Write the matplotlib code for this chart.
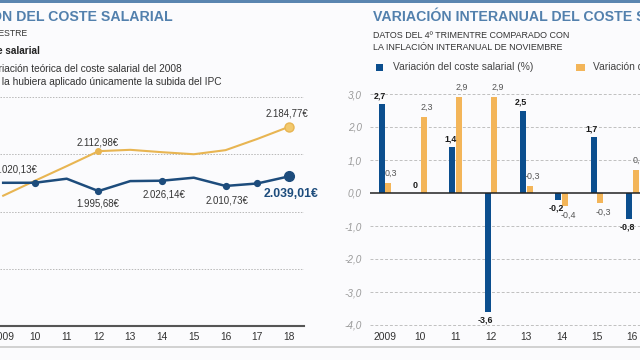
import matplotlib
matplotlib.use("Agg")
import matplotlib.pyplot as plt
from matplotlib.patches import Rectangle
from matplotlib.lines import Line2D

plt.rcParams['font.family'] = ['Liberation Sans', 'DejaVu Sans']

W, H = 640, 360

# Evolución del coste salarial (euros, 4º trimestre)
years = [2009, 2010, 2011, 2012, 2013, 2014, 2015, 2016, 2017, 2018]
coste_salarial = [2020.0, 2020.13, 2032.0, 1995.68, 2025.0, 2026.14, 2035.0, 2010.73, 2018.0, 2039.01]
coste_ipc = [1982.0, 2026.0, 2069.0, 2112.98, 2117.0, 2110.0, 2104.0, 2116.0, 2149.0, 2184.77]
years_marcados = [2010, 2012, 2014, 2016, 2017]
years_etiqueta = [2010, 2012, 2014, 2016]
year_labels = ["2009", "10", "11", "12", "13", "14", "15", "16", "17", "18"]

# Variación interanual (%)
bar_years = [2009, 2010, 2011, 2012, 2013, 2014, 2015, 2016]
var_coste = [2.7, 0.0, 1.4, -3.6, 2.5, -0.2, 1.7, -0.8]
var_ipc = [0.3, 2.3, 2.9, 2.9, 0.2, -0.4, -0.3, 0.7]
var_ipc_labels = ["0,3", "2,3", "2,9", "2,9", "-0,3", "-0,4", "-0,3", "0,7"]
bar_year_labels = ["2009", "10", "11", "12", "13", "14", "15", "16"]
bar_yticks = [-4, -3, -2, -1, 0, 1, 2, 3]

BLUE_LINE = '#1d4c7c'
GOLD_LINE = '#e8b552'
BLUE_BAR = '#0b4e8e'
GOLD_BAR = '#f3b559'
TITLE = '#5280ad'
BG = '#fbfbfd'


def fx(x):
    return x / W


def fy(y):
    return 1 - y / H


def euros(v):
    s = f"{v:,.2f}".replace(",", "X").replace(".", ",").replace("X", ".")
    return s + "€"


def pt(px):
    return px * 72 / 100


fig = plt.figure(figsize=(6.4, 3.6), dpi=100, facecolor=BG)

# bandas decorativas
fig.add_artist(Rectangle((0, fy(3)), 1, 3 / H, transform=fig.transFigure,
                         color='#5a85b0', lw=0))
fig.add_artist(Line2D([0, 1], [fy(347), fy(347)], transform=fig.transFigure,
                      color='#cacaca', lw=1.2))

# ---------------- panel izquierdo ----------------
fig.text(fx(173), fy(17), "EVOLUCIÓN DEL COSTE SALARIAL", ha='right', va='center',
         fontsize=10.2, fontweight='bold', color=TITLE)
fig.text(fx(27), fy(33), "4º TRIMESTRE", ha='right', va='center', fontsize=6.2, color='#333')
fig.text(fx(40), fy(51), "Coste salarial", ha='right', va='center', fontsize=7.2,
         fontweight='bold', color='#222')
fig.text(fx(182), fy(69), "Variación teórica del coste salarial del 2008", ha='right',
         va='center', fontsize=7.3, color='#333')
fig.text(fx(222), fy(82), "si se la hubiera aplicado únicamente la subida del IPC", ha='right',
         va='center', fontsize=7.3, color='#333')

ax1 = fig.add_axes([0, fy(326), fx(304), (326 - 90) / H])
ax1.set_facecolor('none')
y0, slope = 2061.55, 0.34   # escala: pixeles por euro
ylo = y0 - (326 - 168.67) / slope
yhi = y0 + (168.67 - 90) / slope
ax1.set_ylim(ylo, yhi)
ax1.set_xlim(2008.9, 2018.47)
step = ((168.67 - 97) / slope + (326 - 168.67) / slope) / 4
for k in range(1, 5):
    ax1.axhline(ylo + k * step, color='#b8b8b8', lw=0.7, ls=(0, (1.5, 1.5)), zorder=1)

ax1.plot(years, coste_ipc, color=GOLD_LINE, lw=1.5, zorder=3, solid_joinstyle='round')
ax1.plot(years, coste_salarial, color=BLUE_LINE, lw=1.8, zorder=4, solid_joinstyle='round')

for yr in years_marcados:
    i = years.index(yr)
    ax1.plot(yr, coste_salarial[i], 'o', color=BLUE_LINE, ms=4.2, zorder=5)
ax1.plot(years[-1], coste_salarial[-1], 'o', color=BLUE_LINE, ms=7, zorder=5)
i12 = years.index(2012)
ax1.plot(2012, coste_ipc[i12], 'o', color=GOLD_LINE, ms=4, zorder=5)
ax1.plot(years[-1], coste_ipc[-1], 'o', mfc='#f2c96e', mec=GOLD_LINE, mew=1, ms=6.5, zorder=5)

offs = {2010: (-19, 13), 2012: (-1, -12), 2014: (2, -14), 2016: (1, -15)}
for yr in years_etiqueta:
    i = years.index(yr)
    dx, dy = offs[yr]
    ax1.annotate(euros(coste_salarial[i]), (yr, coste_salarial[i]), xytext=(pt(dx), pt(dy)),
                 textcoords='offset points', ha='center', va='center', fontsize=6.9,
                 color='#333', annotation_clip=False)
ax1.annotate(euros(coste_salarial[-1]), (years[-1], coste_salarial[-1]), xytext=(pt(2), pt(-18)),
             textcoords='offset points', ha='center', va='center', fontsize=8.8,
             fontweight='bold', color=BLUE_LINE, annotation_clip=False)
ax1.annotate(euros(coste_ipc[i12]), (2012, coste_ipc[i12]), xytext=(pt(-1), pt(9)),
             textcoords='offset points', ha='center', va='center', fontsize=6.9,
             color='#333', annotation_clip=False)
ax1.annotate(euros(coste_ipc[-1]), (years[-1], coste_ipc[-1]), xytext=(pt(-2), pt(13)),
             textcoords='offset points', ha='center', va='center', fontsize=6.9,
             color='#333', annotation_clip=False)

for s in ['left', 'right', 'top']:
    ax1.spines[s].set_visible(False)
ax1.spines['bottom'].set_color('#555')
ax1.spines['bottom'].set_linewidth(1.5)
ax1.set_yticks([])
ax1.set_xticks(years)
ax1.set_xticklabels(year_labels)
ax1.tick_params(axis='x', length=0, pad=4, labelsize=7.4, labelcolor='#333')

# ---------------- panel derecho ----------------
fig.text(fx(373), fy(17), "VARIACIÓN INTERANUAL DEL COSTE SALARIAL", ha='left', va='center',
         fontsize=10.2, fontweight='bold', color=TITLE)
fig.text(fx(373), fy(36), "DATOS DEL 4º TRIMENTRE COMPARADO CON", ha='left', va='center',
         fontsize=6.4, color='#333')
fig.text(fx(373), fy(48), "LA INFLACIÓN INTERANUAL DE NOVIEMBRE", ha='left', va='center',
         fontsize=6.4, color='#333')
fig.add_artist(Rectangle((fx(376), fy(71)), 7 / W, 7 / H, transform=fig.transFigure,
                         color=BLUE_BAR, lw=0))
fig.text(fx(393), fy(67), "Variación del coste salarial (%)", ha='left', va='center',
         fontsize=7.4, color='#444')
fig.add_artist(Rectangle((fx(576), fy(71)), 9 / W, 7 / H, transform=fig.transFigure,
                         color=GOLD_BAR, lw=0))
fig.text(fx(593), fy(67), "Variación del IPC (%)", ha='left', va='center',
         fontsize=7.4, color='#444')

ppu = 33.0  # pixeles por unidad
ylim2 = (-4.05, 3.3)
ax2 = fig.add_axes([fx(370), fy(325 + 0.05 * ppu), fx(270), (ylim2[1] - ylim2[0]) * ppu / H])
ax2.set_facecolor('none')
ax2.set_xlim(2008.575, 2016.22)
ax2.set_ylim(*ylim2)
for v in bar_yticks:
    if v == 0:
        ax2.axhline(0, color='#222', lw=1.1, zorder=4)
    else:
        ax2.axhline(v, color='#c0c0c0', lw=0.7, ls=(0, (3, 2)), zorder=1)

bw = 0.17
xb = [y - 0.095 for y in bar_years]
xg = [y + 0.095 for y in bar_years]
ax2.bar(xb, var_coste, width=bw, color=BLUE_BAR, zorder=3)
ax2.bar(xg, var_ipc, width=bw, color=GOLD_BAR, zorder=3)

for x, v in zip(xb, var_coste):
    lab = "0" if v == 0 else f"{v:.1f}".replace(".", ",")
    dy = 8 if v >= 0 else -8
    ax2.annotate(lab, (x, v), xytext=(pt(-2), pt(dy)), textcoords='offset points',
                 ha='center', va='center', fontsize=6.4, fontweight='bold', color='#1a1a1a',
                 annotation_clip=False)
for x, v, lab in zip(xg, var_ipc, var_ipc_labels):
    dy = 10 if v >= 0 else -9
    ax2.annotate(lab, (x, v), xytext=(pt(3), pt(dy)), textcoords='offset points',
                 ha='center', va='center', fontsize=6.4, color='#555',
                 annotation_clip=False)

for s in ax2.spines.values():
    s.set_visible(False)
ax2.set_yticks(bar_yticks)
ax2.set_yticklabels([f"{v:.1f}".replace(".", ",") for v in bar_yticks],
                    fontstyle='italic')
ax2.set_xticks(bar_years)
ax2.set_xticklabels(bar_year_labels)
ax2.tick_params(axis='y', length=0, pad=6, labelsize=7.2, labelcolor='#9a9a9a')
ax2.tick_params(axis='x', length=0, pad=4, labelsize=7.4, labelcolor='#333')

fig.savefig("out.png", dpi=100, facecolor=BG)
